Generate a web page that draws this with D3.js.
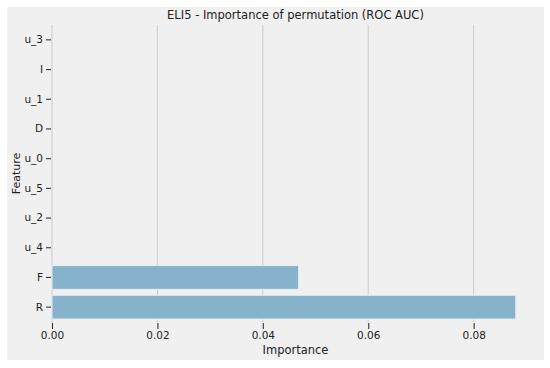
<!DOCTYPE html>
<html lang="en">
<head>
    <meta charset="UTF-8">
    <script src="https://d3js.org/d3.v7.min.js"></script>
    <style>
        body { margin: 0; background: #fff; }
        text { font-family: "DejaVu Sans", sans-serif; fill: #222; }
    </style>
    <title>ELI5 permutation importance</title>
</head>
<body>
    <script>
        // Features from top to bottom, with their importances
        const features = ["u_3", "I", "u_1", "D", "u_0", "u_5", "u_2", "u_4", "F", "R"];
        const importances = [0, 0, 0, 0, 0, 0, 0, 0, 0.0468, 0.0880];
        const xTicks = [0, 0.02, 0.04, 0.06, 0.08];

        const width = 550;
        const height = 368;
        const margin = { top: 25, right: 11, bottom: 46, left: 52 };

        const svg = d3.select("body")
            .append("svg")
            .attr("width", width)
            .attr("height", height);

        // figure background
        svg.append("rect")
            .attr("x", 7).attr("y", 7)
            .attr("width", 537).attr("height", 353)
            .attr("fill", "#f0f0f0");

        const x = d3.scaleLinear()
            .domain([0, d3.max(importances) * 1.05])
            .range([margin.left, width - margin.right]);

        const y = d3.scaleBand()
            .domain(features)
            .range([margin.top, height - margin.bottom])
            .paddingInner(0.2)
            .paddingOuter(0.1);

        // vertical grid
        svg.append("g")
            .selectAll("line")
            .data(xTicks)
            .join("line")
            .attr("x1", d => x(d)).attr("x2", d => x(d))
            .attr("y1", margin.top).attr("y2", height - margin.bottom)
            .attr("stroke", "#cbcbcb")
            .attr("stroke-width", 1);

        // bars
        svg.append("g")
            .selectAll("rect")
            .data(features.map((f, i) => ({ f, v: importances[i] })))
            .join("rect")
            .attr("x", x(0))
            .attr("y", d => y(d.f))
            .attr("width", d => x(d.v) - x(0))
            .attr("height", y.bandwidth())
            .attr("fill", d => d.v > 0 ? "#86b3cb" : "none")
            .attr("stroke", d => d.v > 0 ? "#e8eef2" : "none")
            .attr("stroke-width", 1);

        // x axis
        const xAxis = svg.append("g")
            .attr("transform", `translate(0,${height - margin.bottom + 1})`)
            .call(d3.axisBottom(x).tickValues(xTicks).tickFormat(d3.format(".2f")).tickSize(6).tickPadding(3));
        xAxis.select(".domain").remove();
        xAxis.selectAll("line").attr("stroke", "#333").attr("stroke-width", 1.1);
        xAxis.selectAll("text").style("font-size", "10.5px");

        // y axis
        const yAxis = svg.append("g")
            .attr("transform", `translate(${margin.left - 1},0)`)
            .call(d3.axisLeft(y).tickSize(5).tickPadding(3));
        yAxis.select(".domain").remove();
        yAxis.selectAll("line").attr("stroke", "#333").attr("stroke-width", 1.1);
        yAxis.selectAll("text").style("font-size", "10.5px");

        // title and labels
        svg.append("text")
            .attr("x", (margin.left + width - margin.right) / 2)
            .attr("y", 19)
            .attr("text-anchor", "middle")
            .style("font-size", "11.5px")
            .text("ELI5 - Importance of permutation (ROC AUC)");

        svg.append("text")
            .attr("x", (margin.left + width - margin.right) / 2)
            .attr("y", 354)
            .attr("text-anchor", "middle")
            .style("font-size", "11.5px")
            .text("Importance");

        svg.append("text")
            .attr("transform", `translate(20,${(margin.top + height - margin.bottom) / 2}) rotate(-90)`)
            .attr("text-anchor", "middle")
            .style("font-size", "11px")
            .text("Feature");
    </script>
</body>
</html>
